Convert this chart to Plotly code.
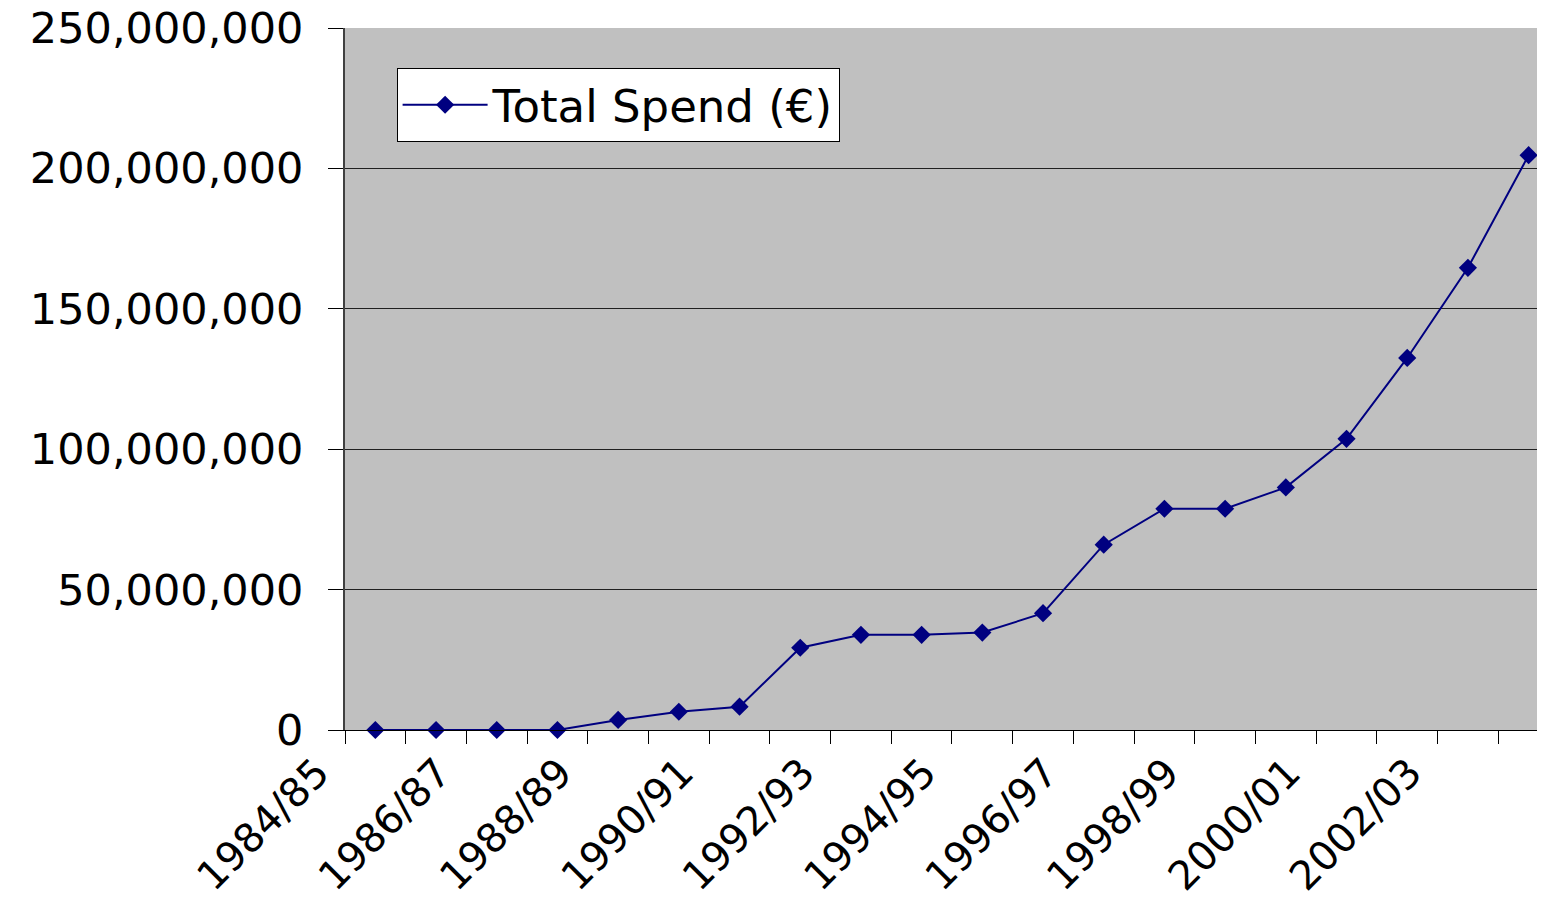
import plotly.graph_objects as go

categories = ["1984/85", "1985/86", "1986/87", "1987/88", "1988/89", "1989/90",
              "1990/91", "1991/92", "1992/93", "1993/94", "1994/95", "1995/96",
              "1996/97", "1997/98", "1998/99", "1999/00", "2000/01", "2001/02",
              "2002/03", "2003/04"]
total_spend = [0, 0, 0, 0, 3.6e6, 6.5e6, 8.3e6, 29.3e6, 33.9e6, 33.9e6,
               34.7e6, 41.6e6, 66.0e6, 78.8e6, 78.8e6, 86.4e6, 103.7e6,
               132.5e6, 164.6e6, 204.7e6]
tick_labels = [c if i % 2 == 0 else "" for i, c in enumerate(categories)]
y_ticks = [0, 50e6, 100e6, 150e6, 200e6, 250e6]

FONT = "DejaVu Sans, Liberation Sans, Arial, sans-serif"

fig = go.Figure()
fig.add_trace(go.Scatter(
    x=categories, y=total_spend, mode="lines+markers",
    name="Total Spend (\u20ac)",
    line=dict(color="#000080", width=2),
    marker=dict(symbol="diamond", size=14, color="#000080"),
    cliponaxis=False,
))

fig.update_layout(
    width=1537, height=892,
    margin=dict(l=337, r=0, t=20, b=170, autoexpand=False),
    paper_bgcolor="white", plot_bgcolor="#C0C0C0",
    font=dict(family=FONT, size=42, color="black"),
    showlegend=True,
    legend=dict(x=0.043, y=0.943, xanchor="left", yanchor="top",
                bgcolor="white", bordercolor="black", borderwidth=1,
                itemwidth=85,
                font=dict(size=45, family=FONT)),
    xaxis=dict(
        type="category", categoryorder="array", categoryarray=categories,
        range=[-0.5, 19.27], automargin=False, ticklabeloverflow="allow",
        tickmode="array", tickvals=categories, ticktext=tick_labels,
        tickson="boundaries", ticks="outside", ticklen=13, tickcolor="black",
        tickangle=-45, showgrid=False, showline=True, linecolor="black",
        linewidth=1, ticklabelshift=-58, ticklabelstandoff=2,
        tickfont=dict(size=40, family=FONT),
    ),
    yaxis=dict(
        range=[0, 250e6], tickmode="array", tickvals=y_ticks, automargin=False,
        ticklabeloverflow="allow",
        tickformat=",", ticks="outside", ticklen=15, tickcolor="black",
        showgrid=True, gridcolor="#202020", gridwidth=1,
        showline=True, linecolor="#404040", linewidth=2,
        zeroline=False, ticklabelstandoff=16,
        tickfont=dict(size=43, family=FONT),
    ),
)

fig.write_html("out.html")
